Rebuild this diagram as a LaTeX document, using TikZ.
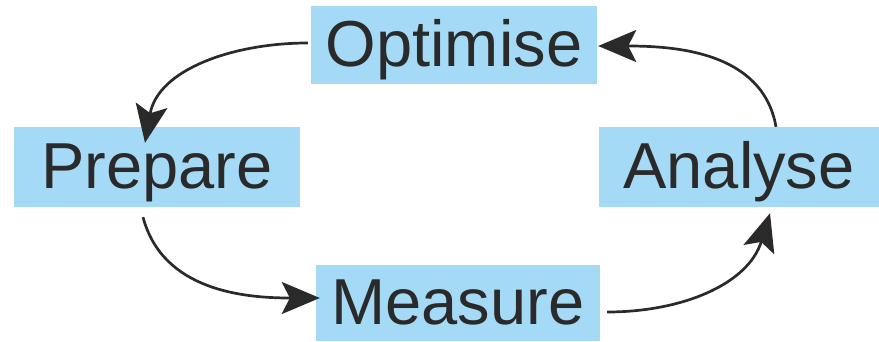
\documentclass[tikz,border=0pt]{standalone}
\usepackage{fontspec}
\setmainfont{Liberation Sans}
\usetikzlibrary{arrows.meta,calc}
\definecolor{boxblue}{RGB}{164,218,246}
\definecolor{ink}{RGB}{42,42,42}
\begin{document}
\begin{tikzpicture}[x=1pt,y=1pt,
  stage/.style={rectangle, fill=boxblue, draw=none, inner sep=0pt,
    text=ink, font=\fontsize{65}{72}\selectfont,
    text height=50pt, text depth=8pt, anchor=center},
  flow/.style={draw=ink, line width=2.7pt,
    -{Stealth[length=38pt,width=32pt,inset=8pt]}}]
  \useasboundingbox (0,0) rectangle (879,341);

  % the four stages of the cycle
  \node[stage, minimum width=286pt, minimum height=78pt] (opt)  at (454,296) {Optimise};
  \node[stage, minimum width=286pt, minimum height=80pt] (prep) at (157,174) {Prepare};
  \node[stage, minimum width=280pt, minimum height=80pt] (ana)  at (739,174) {Analyse};
  \node[stage, minimum width=284pt, minimum height=76pt] (meas) at (458,38)  {Measure};

  % curved connectors running round the cycle
  \draw[flow] ($(opt.west)+(-3,2)$)   to[out=180, in=80]  ($(prep.north)+(-12,-16)$);
  \draw[flow] ($(prep.south)+(-14,-10)$) to[out=-75, in=180] ($(meas.west)+(4,5)$);
  \draw[flow] ($(meas.east)+(7,-9)$)  to[out=0, in=-107]  ($(ana.south)+(31,-6)$);
  \draw[flow] ($(ana.north)+(37,0)$)  to[out=100, in=0]   ($(opt.east)+(1,-1)$);
\end{tikzpicture}
\end{document}
